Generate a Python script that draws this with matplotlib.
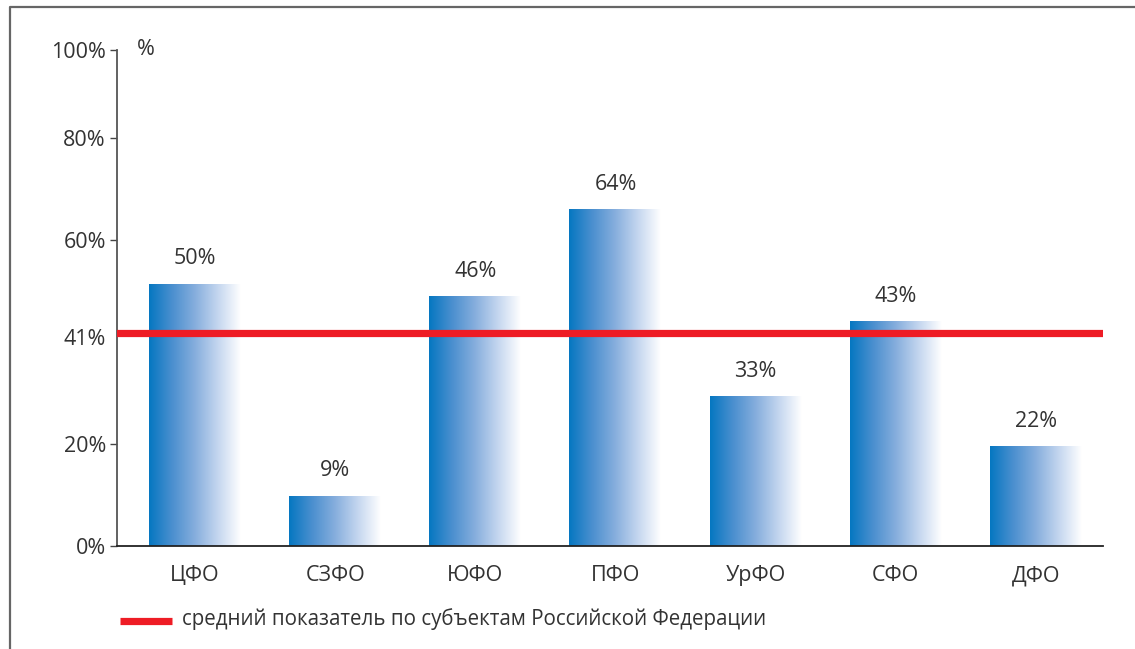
"""
Доля по федеральным округам, столбцы с градиентом и средний показатель
"""
import numpy as np
import matplotlib
matplotlib.use("Agg")
import matplotlib.pyplot as plt
from matplotlib.colors import LinearSegmentedColormap
from matplotlib.lines import Line2D

# Данные
okruga = ['ЦФО', 'СЗФО', 'ЮФО', 'ПФО', 'УрФО', 'СФО', 'ДФО']
vysota = [51.4, 9.9, 49.0, 66.1, 29.4, 44.1, 19.6]   # высота столбцов, как на рисунке
podpisi = ['50%', '9%', '46%', '64%', '33%', '43%', '22%']
srednee = 41.8
y_ticks = [0, 20, 41, 60, 80, 97.3]
y_tick_labels = ['0%', '20%', '41%', '60%', '80%', '100%']
legend_text = 'средний показатель по субъектам Российской Федерации'

plt.rcParams['font.family'] = ['Open Sans', 'DejaVu Sans']
text_color = '#333333'
fs = 15.5

fig = plt.figure(figsize=(11.35, 6.49), dpi=100)
ax = fig.add_axes([0.1031, 0.1587, 0.8687, 0.7643])

cmap = LinearSegmentedColormap.from_list(
    'grad', ['#0577c1', '#4a8fcf', '#86aedd', '#c4d6ef', '#ffffff'])
grad = np.linspace(0, 1, 256).reshape(1, -1)

x = np.arange(len(okruga))
width = 0.656
bars = ax.bar(x, vysota, width=width, color='none', edgecolor='none')
for b, lab in zip(bars, podpisi):
    x0, w, h = b.get_x(), b.get_width(), b.get_height()
    img = ax.imshow(grad, cmap=cmap, aspect='auto', extent=[x0, x0 + w, 0, h],
                    zorder=2)
    img.set_clip_path(b)
    ax.annotate(lab, (x0 + w / 2, h), xytext=(0, 18), textcoords='offset points',
                ha='center', va='center', fontsize=fs, color=text_color)

ax.axhline(srednee, color='#ee1c25', linewidth=5.2, zorder=3)

ax.set_xlim(-0.556, 6.478)
ax.set_ylim(0, 97.3)
ax.set_yticks(y_ticks)
ax.set_yticklabels(y_tick_labels, fontsize=fs, color=text_color)
ax.set_xticks(x)
ax.set_xticklabels(okruga, fontsize=fs, color=text_color)
ax.tick_params(axis='x', length=0, pad=14)
ax.tick_params(axis='y', length=5, width=1, color='#444444', pad=3)
ax.yaxis.get_major_ticks()[2].tick1line.set_visible(False)

for s in ['top', 'right']:
    ax.spines[s].set_visible(False)
ax.spines['left'].set_color('#555555')
ax.spines['left'].set_linewidth(1.3)
ax.spines['bottom'].set_color('#222222')
ax.spines['bottom'].set_linewidth(1.3)

# знак процента у вершины оси
ax.text(0.02, 1.0, '%', transform=ax.transAxes, fontsize=fs, color=text_color,
        ha='left', va='center')

# легенда
fig.add_artist(Line2D([0.1057, 0.1515], [0.043, 0.043], color='#ee1c25',
                      linewidth=5.2, solid_capstyle='butt',
                      transform=fig.transFigure))
fig.text(0.160, 0.046, legend_text, fontsize=14.8, color=text_color,
         ha='left', va='center')

# рамка
fig.add_artist(Line2D([0.009, 0.009, 1.0], [0.0, 0.989, 0.989], color='#666666',
                      linewidth=1.6, transform=fig.transFigure))

fig.savefig('out.png', dpi=100)
